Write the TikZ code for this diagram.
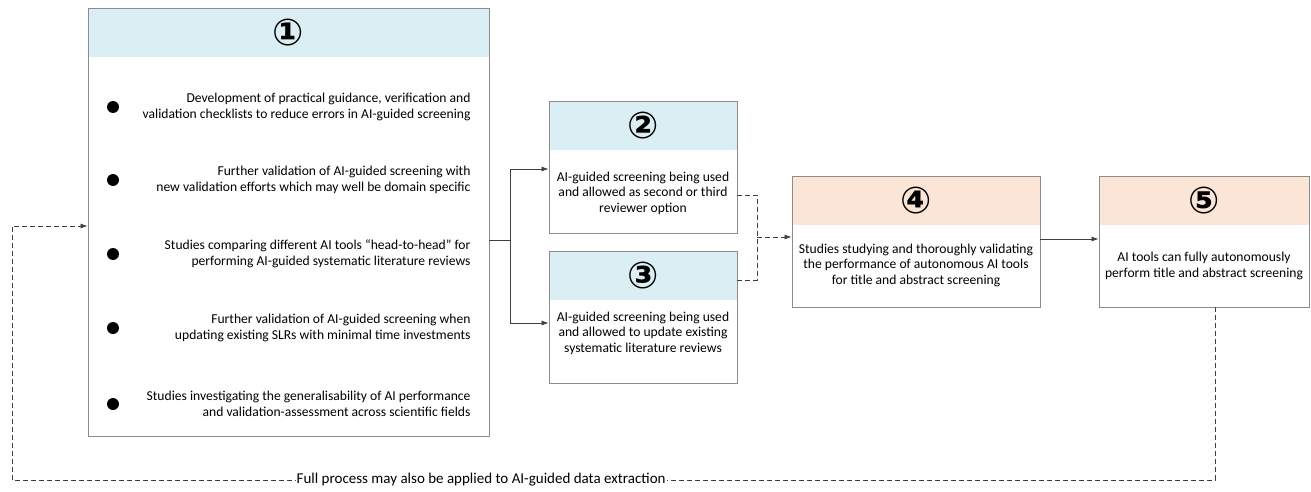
\documentclass[tikz,border=0pt]{standalone}
\usepackage{fontspec}
\setmainfont{Carlito}
\newfontfamily\circfont{DejaVu Sans Bold}
\usetikzlibrary{positioning, arrows.meta}
\definecolor{hdrblue}{HTML}{DAEEF3}
\definecolor{hdrpeach}{HTML}{FBE5D6}
\definecolor{edgegray}{HTML}{8C8C8C}
\definecolor{linegray}{HTML}{404040}
\tikzset{
>={Latex[length=7pt,width=5pt]}, % arrow heads
box/.style={draw=edgegray, line width=0.9pt, inner sep=0pt}, % outline of a box
hdr/.style={fill=#1, draw=none, minimum height=49pt, inner sep=0pt, font=\circfont\fontsize{37}{37}\selectfont}, % coloured band with the number
txt/.style={align=center, font=\fontsize{13.6}{15.5}\selectfont}, % text inside the boxes
item/.style={align=right, anchor=east, font=\fontsize{13.6}{16}\selectfont}, % bullet texts of box 1
dot/.style={circle, fill=black, minimum size=12pt, inner sep=0pt}, % bullet
link/.style={->, line width=0.7pt, draw=linegray}, % solid connector
dlink/.style={link, dash pattern=on 5pt off 3pt}, % dashed connector
}

\begin{document}
\begin{tikzpicture}[x=1pt, y=-1pt]
    \useasboundingbox (0,0) rectangle (1311,492);

    % box 1
    \node[hdr=hdrblue, minimum width=401pt] (h1) at (288.5,32.5) {①};
    \node[box, minimum width=401pt, minimum height=428pt] (b1) at (288.5,222) {};
    \foreach \i/\y/\t in {
        1/107/{Development of practical guidance, verification and\\validation checklists to reduce errors in AI-guided screening},
        2/180/{Further validation of AI-guided screening with\\new validation efforts which may well be domain specific},
        3/254/{Studies comparing different AI tools “head-to-head” for\\performing AI-guided systematic literature reviews},
        4/328/{Further validation of AI-guided screening when\\updating existing SLRs with minimal time investments},
        5/404/{Studies investigating the generalisability of AI performance\\and validation-assessment across scientific fields}}
    {
        \node[dot] (d\i) at (113,\y) {};
        \node[item] (i\i) at (474,\y) {\t};
    }

    % boxes 2 and 3
    \node[hdr=hdrblue, minimum width=188pt] (h2) at (643,125.5) {②};
    \node[box, minimum width=188pt, minimum height=132pt] (b2) at (643,167) {};
    \node[txt] (t2) at (643,193) {AI-guided screening being used\\and allowed as second or third\\reviewer option};
    \node[hdr=hdrblue, minimum width=188pt] (h3) at (643,275.5) {③};
    \node[box, minimum width=188pt, minimum height=132pt] (b3) at (643,317) {};
    \node[txt] (t3) at (643,333) {AI-guided screening being used\\and allowed to update existing\\systematic literature reviews};

    % boxes 4 and 5
    \node[hdr=hdrpeach, minimum width=248pt] (h4) at (916,200.5) {④};
    \node[box, minimum width=248pt, minimum height=131pt] (b4) at (916,241.5) {};
    \node[txt] (t4) at (916,265) {Studies studying and thoroughly validating\\the performance of autonomous AI tools\\for title and abstract screening};
    \node[hdr=hdrpeach, minimum width=210pt] (h5) at (1204,200.5) {⑤};
    \node[box, minimum width=210pt, minimum height=131pt] (b5) at (1204,241.5) {};
    \node[txt] (t5) at (1204,266) {AI tools can fully autonomously\\perform title and abstract screening};

    % connectors
    \coordinate (j) at (510,240);
    \coordinate (m) at (757,237);
    \draw[link, -] (b1.east |- j) -- (j);
    \draw[link] (j) |- (b2.west |- 0,169);
    \draw[link] (j) |- (b3.west |- 0,323);
    \draw[dlink, -] (b2.east |- 0,195) -| (m) |- (b3.east |- 0,280);
    \draw[dlink] (m) -- (b4.west |- m);
    \draw[link] (b4.east |- 0,239) -- (b5.west |- 0,239);
    \draw[dlink] (b5.south -| 1215,0) -- (1215,480) -- node[pos=0.61, fill=white, inner sep=1pt, font=\fontsize{15}{15}\selectfont] (lbl) {Full process may also be applied to AI-guided data extraction} (12,480) -- (12,226) -- (b1.west |- 0,226);
\end{tikzpicture}
\end{document}
